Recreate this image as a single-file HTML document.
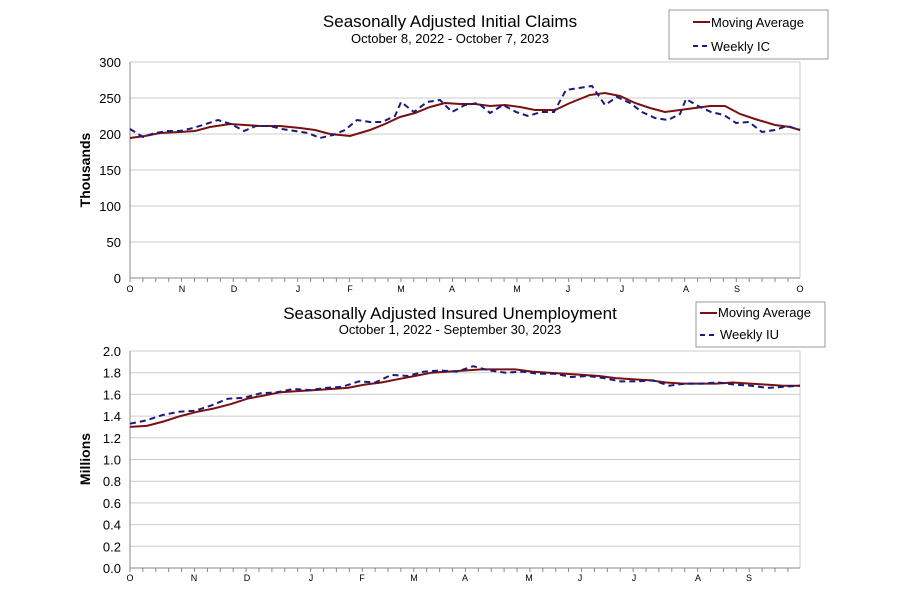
<!DOCTYPE html>
<html><head><meta charset="utf-8"><style>
body{margin:0;background:#fff;width:921px;height:587px;overflow:hidden}
svg text{font-family:"Liberation Sans",Arial,sans-serif;fill:#000}
</style></head><body>
<svg id="s" width="921" height="587" xmlns="http://www.w3.org/2000/svg">
<text x="450" y="27" font-size="17" text-anchor="middle">Seasonally Adjusted Initial Claims</text>
<text x="450" y="43" font-size="13" text-anchor="middle">October 8, 2022 - October 7, 2023</text>
<rect x="669" y="10" width="159" height="49" fill="#fff" stroke="#999"/>
<line x1="693" y1="22" x2="710" y2="22" stroke="#7b1010" stroke-width="2"/>
<text x="711" y="27" font-size="13">Moving Average</text>
<line x1="693" y1="46" x2="710" y2="46" stroke="#1a1a7a" stroke-width="2" stroke-dasharray="5,4"/>
<text x="711" y="51" font-size="13">Weekly IC</text>
<text x="450" y="319" font-size="17" text-anchor="middle">Seasonally Adjusted Insured Unemployment</text>
<text x="450" y="334" font-size="13" text-anchor="middle">October 1, 2022 - September 30, 2023</text>
<rect x="696" y="302" width="129" height="45" fill="#fff" stroke="#999"/>
<line x1="700" y1="313" x2="717" y2="313" stroke="#7b1010" stroke-width="2"/>
<text x="718" y="317" font-size="13">Moving Average</text>
<line x1="700" y1="335" x2="717" y2="335" stroke="#1a1a7a" stroke-width="2" stroke-dasharray="5,4"/>
<text x="720" y="339" font-size="13">Weekly IU</text>
<text transform="translate(90,170) rotate(-90)" font-size="14" font-weight="bold" text-anchor="middle">Thousands</text>
<text transform="translate(90,459) rotate(-90)" font-size="14" font-weight="bold" text-anchor="middle">Millions</text>
<g id="g"></g>
</svg>
<script>
var g=document.getElementById('g'),h='';
function L(x1,y1,x2,y2,c,w){h+='<line x1="'+x1+'" y1="'+y1+'" x2="'+x2+'" y2="'+y2+'" stroke="'+c+'" stroke-width="'+(w||1)+'"/>';}
function T(x,y,t,s,a){h+='<text x="'+x+'" y="'+y+'" font-size="'+s+'" text-anchor="'+(a||'end')+'">'+t+'</text>';}
// top grid
for(var i=0;i<=6;i++){var y=278-i*36;L(130,y,800,y,'#ccc');T(121,y+5,i*50,13);}
L(800,62,800,278,'#ccc');L(130,62,130,278,'#888');L(130,278,800,278,'#888');
var mt=[[130,'O'],[182,'N'],[234,'D'],[298,'J'],[350,'F'],[401,'M'],[452,'A'],[517,'M'],[568,'J'],[622,'J'],[686,'A'],[737,'S'],[800,'O']];
mt.forEach(function(m){T(m[0],292,m[1],9,'middle');});
for(var x=130;x<=800;x+=12.9)L(x,278,x,282,'#888');
// bottom grid
for(var i=0;i<=10;i++){var y=568-i*21.7;L(130,y,800,y,'#ccc');T(121,y+5,(i*0.2).toFixed(1),13);}
L(800,351,800,568,'#ccc');L(130,351,130,568,'#888');L(130,568,800,568,'#888');
var mb=[[130,'O'],[194,'N'],[247,'D'],[311,'J'],[362,'F'],[414,'M'],[465,'A'],[529,'M'],[580,'J'],[634,'J'],[698,'A'],[749,'S']];
mb.forEach(function(m){T(m[0],581,m[1],9,'middle');});
for(var x=130;x<=800;x+=12.9)L(x,568,x,572,'#888');
function P(pts,c,d){h+='<polyline fill="none" stroke="'+c+'" stroke-width="2" '+(d?'stroke-dasharray="6,4"':'')+' points="'+pts.map(function(p){return p.join(',')}).join(' ')+'"/>';}
var ma=[[130,138],[145,136],[160,133],[180,132],[195,131],[210,127],[230,124],[245,125],[260,126],[280,126],[300,128],[315,130],[330,134],[350,136],[370,130],[385,124],[400,117],[415,113],[430,107],[445,103],[460,104],[475,104],[490,106],[505,105],[520,107],[535,110],[555,110],[570,103],[590,95],[605,93],[620,96],[635,103],[650,108],[665,112],[680,110],[695,108],[710,106],[725,106],[740,114],[755,119],[775,125],[790,127],[800,130]];
var wk=[[130,129],[143,137],[155,133],[168,131],[180,131],[193,128],[206,124],[218,120],[231,124],[244,131],[256,126],[270,126],[282,129],[295,131],[308,133],[320,138],[333,135],[345,130],[357,120],[370,122],[382,122],[395,116],[401,102],[414,112],[427,102],[440,100],[452,112],[465,105],[478,103],[490,113],[503,105],[516,112],[528,116],[541,112],[554,112],[566,90],[579,88],[592,86],[605,105],[617,97],[630,103],[642,112],[655,118],[668,120],[680,114],[686,99],[698,106],[711,112],[724,115],[736,123],[749,122],[762,132],[775,130],[787,126],[800,130]];
P(ma,'#7b1010');P(wk,'#1a1a7a',1);
var bm=[1.30,1.31,1.35,1.40,1.44,1.47,1.51,1.56,1.59,1.62,1.63,1.64,1.65,1.66,1.69,1.71,1.74,1.77,1.80,1.81,1.82,1.83,1.83,1.83,1.81,1.80,1.79,1.78,1.77,1.75,1.74,1.73,1.71,1.70,1.70,1.70,1.71,1.70,1.69,1.68,1.68];
var bw=[1.33,1.36,1.41,1.44,1.45,1.50,1.56,1.57,1.61,1.62,1.65,1.64,1.66,1.67,1.72,1.71,1.78,1.77,1.81,1.82,1.81,1.86,1.82,1.80,1.81,1.79,1.79,1.76,1.77,1.75,1.72,1.72,1.73,1.68,1.70,1.70,1.71,1.69,1.68,1.66,1.67,1.68];
function B(a){var n=a.length-1;return a.map(function(v,i){return [(130+i*670/n).toFixed(1),(568-v*108.5).toFixed(1)];});}
P(B(bm),'#7b1010');P(B(bw),'#1a1a7a',1);
g.innerHTML=h;
</script>
</body></html>
